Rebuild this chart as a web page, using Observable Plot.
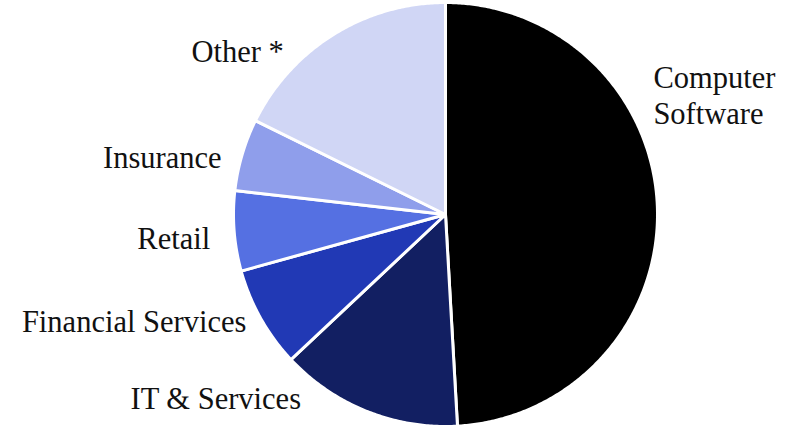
<!DOCTYPE html>
<html>
<head>
<meta charset="utf-8">
<script src="https://cdn.jsdelivr.net/npm/d3@7"></script>
<script src="https://cdn.jsdelivr.net/npm/@observablehq/plot@0.6"></script>
<style>
  html, body { margin: 0; padding: 0; background: #fff; }
  #chart svg { display: block; }
  #chart svg text { font-family: "Liberation Serif", "DejaVu Serif", serif; }
</style>
</head>
<body>
<div id="chart"></div>
<script>
// ---- data ----
const categories = ["Computer Software", "IT & Services", "Financial Services", "Retail", "Insurance", "Other *"];
const shares = [49.1, 13.9, 7.7, 6.1, 5.5, 17.7];
const labelText = ["Computer\nSoftware", "IT & Services", "Financial Services", "Retail", "Insurance", "Other *"];

// ---- styles / layout ----
const colors = ["#000000", "#121f62", "#2139b5", "#5570e2", "#8f9eeb", "#d0d6f5"];
const labelNudge = [[-17, 84], [-61, 14], [-3, -7], [-11, -17], [-8, -17], [-43, -39]];
const W = 794, H = 433, CX = 445, CY = 214, R = 212, LR = 225;

const total = d3.sum(shares);
let acc = 0;
const slices = categories.map((name, i) => {
  const a0 = acc / total * 2 * Math.PI;
  acc += shares[i];
  const a1 = acc / total * 2 * Math.PI;
  return {name, value: shares[i], a0, a1, i};
});

const pts = [];
for (const s of slices) {
  pts.push({name: s.name, x: 0, y: 0});
  const n = Math.max(2, Math.ceil((s.a1 - s.a0) / (Math.PI / 360)));
  for (let k = 0; k <= n; k++) {
    const a = s.a0 + (s.a1 - s.a0) * k / n;
    pts.push({name: s.name, x: R * Math.sin(a), y: R * Math.cos(a)});
  }
  pts.push({name: s.name, x: 0, y: 0});
}

const labels = slices.map(s => {
  const m = (s.a0 + s.a1) / 2;
  return {
    text: labelText[s.i],
    x: LR * Math.sin(m) + labelNudge[s.i][0],
    y: LR * Math.cos(m) + labelNudge[s.i][1],
    anchor: Math.sin(m) >= 0 ? "start" : "end"
  };
});

const font = "Liberation Serif";
const chart = Plot.plot({
  width: W,
  height: H,
  margin: 0,
  x: {domain: [-CX, W - CX], axis: null},
  y: {domain: [-(H - CY), CY], axis: null},
  color: {domain: categories, range: colors},
  marks: [
    Plot.line(pts, {x: "x", y: "y", z: "name", fill: "name", stroke: "white", strokeWidth: 3, strokeLinejoin: "round", curve: "linear"}),
    Plot.text(labels.filter(d => d.anchor === "start"), {x: "x", y: "y", text: "text", textAnchor: "start", lineAnchor: "bottom", lineHeight: 1.2, fontSize: 30.5, fontFamily: font, fill: "#111"}),
    Plot.text(labels.filter(d => d.anchor === "end"), {x: "x", y: "y", text: "text", textAnchor: "end", lineAnchor: "bottom", lineHeight: 1.2, fontSize: 30.5, fontFamily: font, fill: "#111"})
  ]
});
document.getElementById("chart").appendChild(chart);
</script>
</body>
</html>
